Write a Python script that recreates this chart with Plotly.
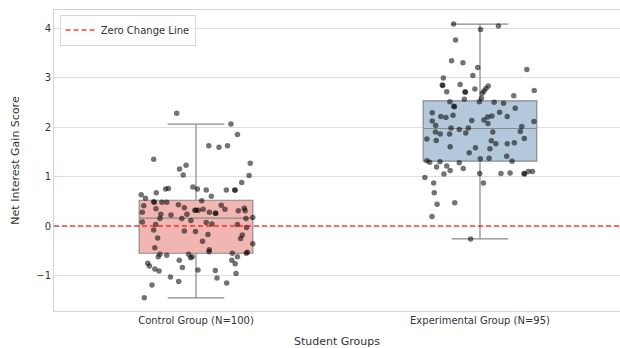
import plotly.graph_objects as go

# ---------------- data ----------------
categories = ["Control Group (N=100)", "Experimental Group (N=95)"]

# box summaries: lower whisker, Q1, median, Q3, upper whisker
control_stats = [-1.45, -0.55, 0.16, 0.52, 2.06]
experimental_stats = [-0.26, 1.31, 1.97, 2.53, 4.08]

control_values = [
    2.28, 2.06, 1.85, 1.62, 1.59, 1.62, 1.35, 1.15, 1.23, 1.27,
    1.03, 1.02, 0.88, 0.79, 0.75, 0.73, 0.73, 0.73, 0.75, 0.76,
    0.67, 0.63, 0.56, 0.60, 0.49, 0.48, 0.48, 0.48, 0.51, 0.43,
    0.37, 0.42, 0.34, 0.31, 0.36, 0.31, 0.41, 0.35, 0.24, 0.22,
    0.32, 0.32, 0.34, 0.28, 0.26, 0.24, 0.15, 0.11, 0.08, 0.03,
    0.15, 0.15, 0.17, 0.07, 0.04, 0.03, -0.03, -0.08, -0.10, -0.11,
    -0.17, -0.18, -0.24, -0.25, -0.31, -0.36, -0.44, -0.48, -0.52, -0.53,
    -0.55, -0.57, -0.62, -0.59, -0.57, -0.64, -0.62, -0.55, -0.62, -0.69,
    -0.76, -0.75, -0.81, -0.87, -0.91, -0.69, -0.84, -0.89, -0.90, -0.96,
    -1.03, -1.12, -1.05, -1.15, -1.19, -1.45, 0.28, 0.72, 0.26, 0.32,
]
control_jitter = [
    -0.068, 0.123, 0.146, 0.045, 0.081, 0.111, -0.149, -0.058, -0.035, 0.191,
    -0.045, 0.187, 0.161, -0.011, 0.005, 0.036, 0.107, 0.136, -0.107, -0.097,
    -0.140, -0.193, -0.178, 0.054, -0.149, -0.147, -0.120, -0.103, 0.020, -0.062,
    -0.041, 0.089, 0.102, 0.149, 0.170, 0.173, -0.184, -0.141, -0.124, -0.088,
    -0.004, 0.008, 0.025, 0.047, 0.068, -0.032, -0.050, -0.018, -0.189, -0.142,
    -0.127, 0.176, 0.200, 0.036, 0.056, 0.146, 0.178, -0.149, -0.041, -0.002,
    0.042, 0.163, -0.135, 0.157, 0.023, 0.200, -0.145, 0.047, 0.046, 0.181,
    0.177, -0.127, -0.133, -0.103, -0.026, -0.019, -0.013, 0.128, 0.146, 0.126,
    0.138, -0.170, -0.164, -0.145, -0.130, -0.059, -0.048, 0.007, 0.068, 0.141,
    -0.090, -0.061, 0.074, 0.108, -0.155, -0.182, -0.189, 0.138, 0.070, 0.000,
]

experimental_values = [
    4.08, 4.04, 3.97, 3.76, 3.34, 3.30, 3.20, 3.16, 3.04, 2.99,
    2.86, 2.85, 2.83, 2.78, 2.73, 2.77, 2.71, 2.71, 2.74, 2.63,
    2.68, 2.56, 2.58, 2.51, 2.51, 2.42, 2.50, 2.48, 2.38, 2.29,
    2.30, 2.24, 2.21, 2.19, 2.12, 2.03, 2.13, 2.14, 2.20, 2.22,
    2.21, 2.07, 2.11, 1.98, 1.95, 1.98, 2.01, 1.90, 1.86, 1.86,
    1.88, 1.90, 1.91, 1.76, 1.73, 1.77, 1.72, 1.66, 1.66, 1.68,
    1.60, 1.58, 1.56, 1.48, 1.41, 1.31, 1.36, 1.37, 1.32, 1.29,
    1.30, 1.28, 1.19, 1.21, 1.12, 1.16, 1.05, 1.06, 1.06, 1.07,
    1.06, 1.10, 1.10, 0.98, 0.87, 0.87, 0.67, 0.47, 0.44, 0.19,
    -0.26, 2.84, 2.70, 2.41, 1.05,
]
experimental_jitter = [
    -0.093, 0.065, 0.002, -0.086, -0.100, -0.060, -0.008, 0.165, -0.025, -0.129,
    -0.070, -0.133, 0.029, 0.021, 0.014, -0.018, -0.117, -0.053, 0.191, 0.119,
    0.008, -0.055, 0.005, -0.002, -0.106, -0.092, 0.050, 0.083, 0.124, -0.168,
    0.069, -0.095, -0.138, -0.120, -0.168, -0.156, -0.029, 0.014, 0.027, 0.042,
    0.096, 0.028, 0.190, -0.102, -0.073, -0.041, 0.147, -0.157, -0.140, -0.107,
    -0.050, 0.045, 0.142, -0.187, -0.154, 0.156, 0.040, 0.056, 0.096, 0.121,
    -0.105, -0.016, 0.035, -0.038, 0.094, 0.113, 0.001, 0.032, -0.187, -0.177,
    -0.141, -0.073, -0.153, -0.117, -0.105, -0.059, -0.127, -0.001, 0.074, 0.106,
    0.155, 0.170, 0.185, -0.194, -0.163, 0.012, -0.161, -0.089, -0.151, -0.169,
    -0.033, -0.131, -0.051, -0.090, 0.157,
]

zero_change = 0.0
y_ticks = [-1, 0, 1, 2, 3, 4]

# ---------------- figure ----------------
fig = go.Figure()

box_fills = ["#F2B6B2", "#B4C8DC"]
all_stats = [control_stats, experimental_stats]
for i, (name, st) in enumerate(zip(categories, all_stats)):
    fig.add_trace(go.Box(
        x=[i], lowerfence=[st[0]], q1=[st[1]], median=[st[2]], q3=[st[3]],
        upperfence=[st[4]],
        width=0.4, whiskerwidth=0.5,
        fillcolor=box_fills[i],
        line=dict(color="#8a8a8a", width=1.2),
        boxpoints=False, showlegend=False, hoverinfo="skip",
    ))

for i, (vals, jit) in enumerate([(control_values, control_jitter),
                                 (experimental_values, experimental_jitter)]):
    fig.add_trace(go.Scatter(
        x=[i + j for j in jit], y=vals, mode="markers",
        marker=dict(color="rgba(0,0,0,0.55)", size=5.5, line=dict(width=0)),
        showlegend=False, hoverinfo="skip",
    ))

fig.add_trace(go.Scatter(
    x=[-0.5, 1.5], y=[zero_change, zero_change], mode="lines",
    line=dict(color="rgba(255,0,0,0.75)", width=1.5, dash="5px,3px"),
    name="Zero Change Line", showlegend=True,
))

axis_font = dict(family="DejaVu Sans, Arial, sans-serif", size=10, color="#333333")

fig.update_layout(
    width=620, height=348,
    margin=dict(l=54, r=0, t=10, b=37, autoexpand=False),
    paper_bgcolor="white", plot_bgcolor="white",
    font=axis_font,
    legend=dict(
        x=0.01, y=0.985, xanchor="left", yanchor="top",
        bgcolor="rgba(255,255,255,0.8)", bordercolor="#d9d9d9", borderwidth=1,
        font=dict(family="DejaVu Sans, Arial, sans-serif", size=10, color="#333333"),
        itemwidth=30, tracegroupgap=0,
    ),
    xaxis=dict(
        range=[-0.5, 1.493], tickmode="array", tickvals=[0, 1], ticktext=categories,
        showgrid=False, zeroline=False, showline=True, linecolor="#d5d5d5",
        linewidth=1, mirror=True, ticks="", tickfont=axis_font, automargin=False,
        title=dict(text="Student Groups", font=dict(size=11, color="#333333"),
                   standoff=13),
    ),
    yaxis=dict(
        range=[-1.717, 4.364], tickmode="array", tickvals=y_ticks,
        ticktext=["\u22121" if t < 0 else str(t) for t in y_ticks],
        showgrid=True, gridcolor="#dedede", gridwidth=1, zeroline=False,
        showline=True, linecolor="#d5d5d5", linewidth=1, mirror=False,
        ticks="", tickfont=axis_font, automargin=False,
        title=dict(text="Net Interest Gain Score", font=dict(size=11, color="#333333"),
                   standoff=14),
    ),
)

fig.write_html("out.html",
               config={"displayModeBar": False},
               post_script="document.body.style.margin='0px';"
                           "document.body.style.overflow='hidden';")
